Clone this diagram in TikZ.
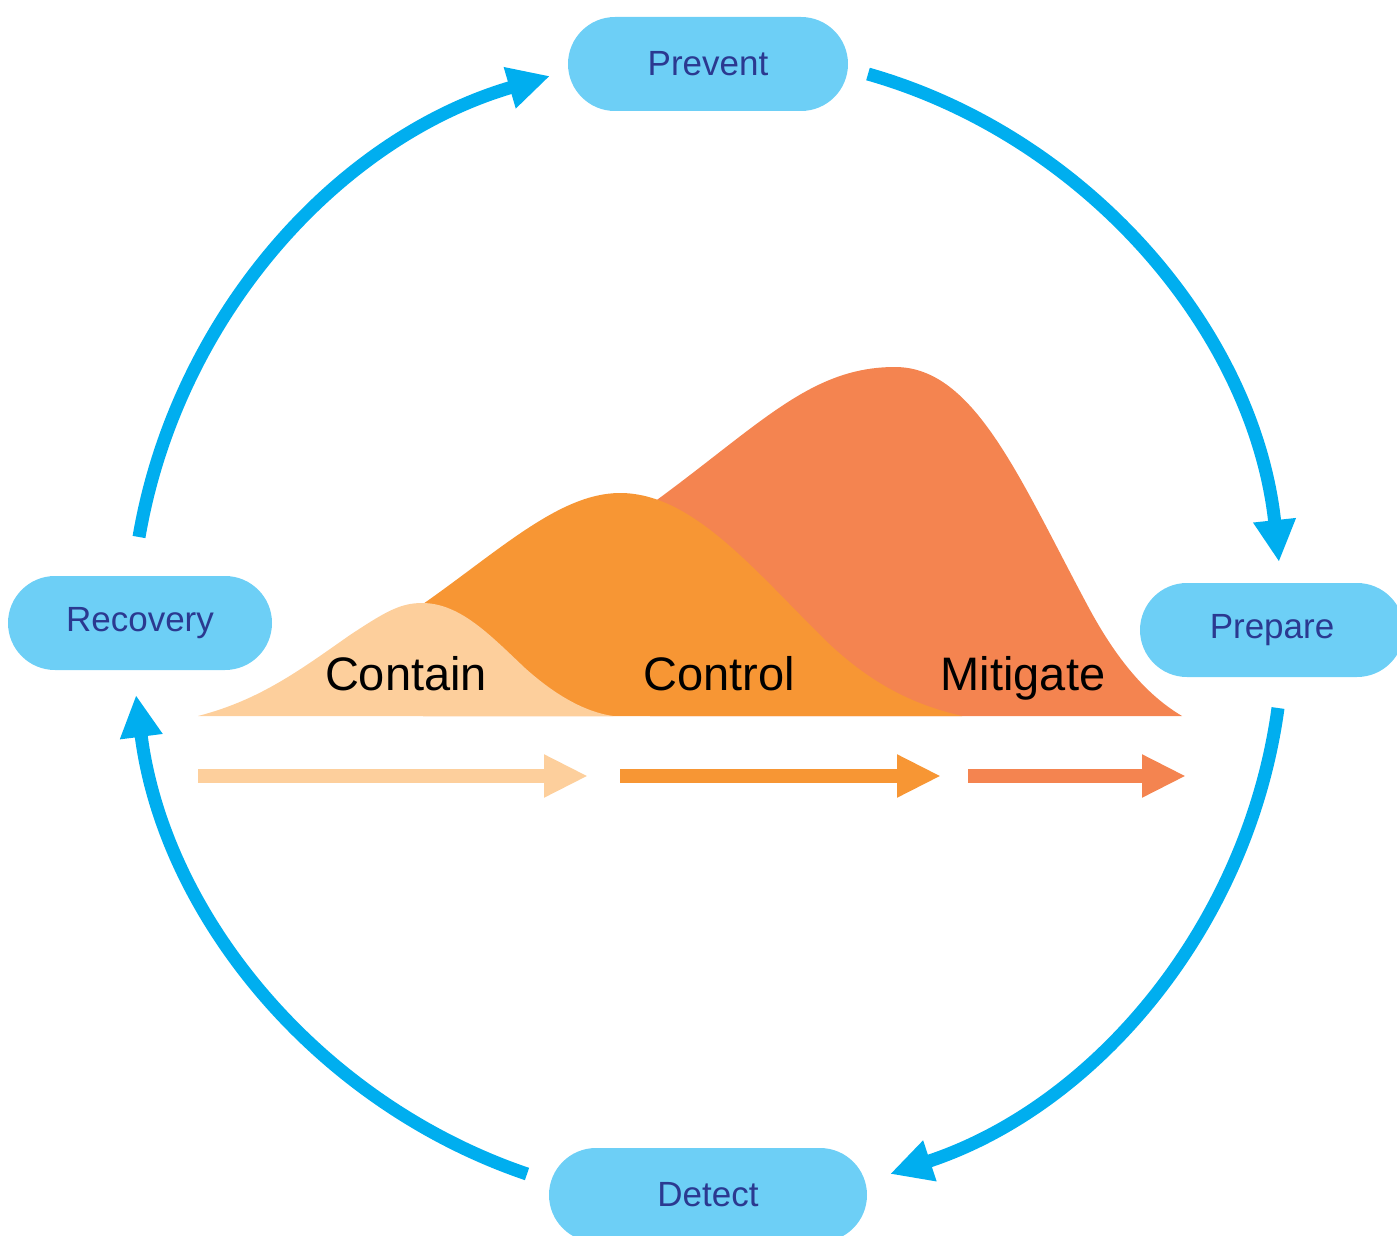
\documentclass[tikz,border=0pt]{standalone}
\usepackage{fontspec}
\setmainfont{Liberation Sans}
\usetikzlibrary{arrows.meta,shapes.misc}

\definecolor{cycleblue}{RGB}{0,174,239}
\definecolor{stagefill}{RGB}{109,207,246}
\definecolor{stagetext}{RGB}{43,57,144}
\definecolor{containcol}{RGB}{253,207,156}
\definecolor{controlcol}{RGB}{247,150,52}
\definecolor{mitigatecol}{RGB}{244,132,80}

\tikzset{
  stage/.style={rounded rectangle, fill=stagefill, text=stagetext, minimum height=47pt, inner sep=0pt, font=\fontsize{17.5}{20}\selectfont},
  cyclearrow/.style={draw=cycleblue, line width=6.5pt, -{Triangle[length=21pt,width=20pt]}, looseness=0.92},
  phasearrow/.style={line width=7pt, -{Triangle[length=22pt,width=20pt]}},
  phaselabel/.style={anchor=base, text=black, font=\fontsize{23.5}{26}\selectfont}
}

\begin{document}
\begin{tikzpicture}[x=0.5pt,y=0.5pt,yscale=-1,xscale=1]
\useasboundingbox (0,0) rectangle (1397,1236); %picture is 1397 wide, 1236 high

%Shape: Mitigate curve
\fill [mitigatecol] (650,505) .. controls (760,425) and (810,367) .. (895,367) .. controls (975,367) and (1020,480) .. (1090,610) .. controls (1120,665) and (1150,697) .. (1182,716) -- (650,716) -- cycle ;
%Shape: Control curve
\fill [controlcol] (423,604) .. controls (500,550) and (560,493) .. (620,493) .. controls (690,493) and (750,565) .. (820,635) .. controls (870,685) and (915,705) .. (962,716) -- (423,716) -- cycle ;
%Shape: Contain curve
\fill [containcol] (198,716) .. controls (260,700) and (300,670) .. (350,635) .. controls (385,612) and (400,603) .. (422,603) .. controls (460,603) and (490,635) .. (525,668) .. controls (555,695) and (585,712) .. (613,716) -- cycle ;

%Straight Lines: phase arrows
\draw [phasearrow, containcol] (198,776) -- (588,776) ;
\draw [phasearrow, controlcol] (620,776) -- (941,776) ;
\draw [phasearrow, mitigatecol] (968,776) -- (1186,776) ;

% Text Node
\draw (406,690) node [phaselabel] (contain) {Contain};
% Text Node
\draw (719,690) node [phaselabel] (control) {Control};
% Text Node
\draw (1023,690) node [phaselabel] (mitigate) {Mitigate};

% Stage Nodes
\draw (708,64) node [stage, minimum width=140pt] (prevent) {Prevent};
\draw (1272,630) node [stage, minimum width=132pt] (prepare) {Prepare};
\draw (708,1195) node [stage, minimum width=159pt] (detect) {Detect};
\draw (140,623) node [stage, minimum width=132pt] (recovery) {Recovery};

% arc ends on the cycle
\coordinate (recovery-out) at (139,537);
\coordinate (prevent-in) at (550,76);
\coordinate (prevent-out) at (868,74);
\coordinate (prepare-in) at (1279,562);
\coordinate (prepare-out) at (1278,708);
\coordinate (detect-in) at (890,1174);
\coordinate (detect-out) at (527,1174);
\coordinate (recovery-in) at (136,695);

%Curve Lines: cycle
\draw [cyclearrow] (recovery-out) to [bend right=32] (prevent-in) ;
\draw [cyclearrow] (prevent-out) to [bend right=34] (prepare-in) ;
\draw [cyclearrow] (prepare-out) to [bend right=32] (detect-in) ;
\draw [cyclearrow] (detect-out) to [bend right=32] (recovery-in) ;

\end{tikzpicture}
\end{document}
